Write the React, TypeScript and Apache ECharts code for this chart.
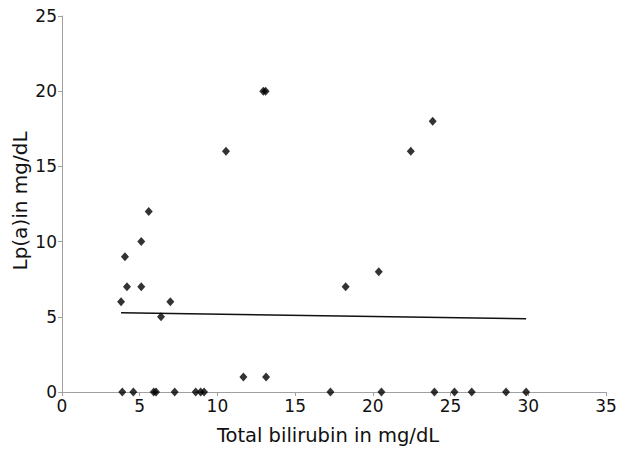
import React, { useEffect, useRef } from "react";
import * as echarts from "echarts";

const bilirubin = [
  3.8, 4.05, 4.18, 5.1, 5.1, 6.97, 6.37, 5.58, 10.55, 12.95, 13.1, 22.44, 23.85, 18.25, 20.38,
  11.67, 13.13,
  3.88, 4.59, 5.9, 6.05, 7.25, 8.6, 8.92, 9.14, 17.27, 20.55, 23.96, 25.25, 26.36, 28.57, 29.86,
];
const lpa = [
  6, 9, 7, 10, 7, 6, 5, 12, 16, 20, 20, 16, 18, 7, 8,
  1, 1,
  0, 0, 0, 0, 0, 0, 0, 0, 0, 0, 0, 0, 0, 0, 0,
];
const trendX = [3.8, 29.86];
const trendY = [5.27, 4.87];

const font = "DejaVu Sans, Verdana, sans-serif";

export default function App() {
  const ref = useRef<HTMLDivElement>(null);
  useEffect(() => {
    const chart = echarts.init(ref.current!, null, { renderer: "svg" });
    const axisLine = { show: true, lineStyle: { color: "#a0a0a0", width: 1 } };
    chart.setOption({
      animation: false,
      backgroundColor: "#ffffff",
      grid: { left: 62, right: 16, top: 16, bottom: 61, containLabel: false, outerBoundsMode: "none" },
      xAxis: {
        type: "value",
        min: 0,
        max: 35,
        interval: 5,
        name: "Total bilirubin in mg/dL",
        nameLocation: "middle",
        nameGap: 33,
        nameMoveOverlap: false,
        nameTextStyle: { color: "#111", fontSize: 19.5, fontFamily: font, padding: [0, 12, 0, 0] },
        axisLine,
        axisTick: { show: true, length: 4, lineStyle: { color: "#a0a0a0" } },
        axisLabel: { color: "#111", fontSize: 17, fontFamily: font, margin: 5 },
        splitLine: { show: false },
      },
      yAxis: {
        type: "value",
        min: 0,
        max: 25,
        interval: 5,
        name: "Lp(a)in mg/dL",
        nameLocation: "middle",
        nameGap: 32,
        nameMoveOverlap: false,
        nameTextStyle: { color: "#111", fontSize: 20, fontFamily: font, padding: [0, 0, 0, 6] },
        axisLine,
        axisTick: { show: true, length: 4, lineStyle: { color: "#a0a0a0" } },
        axisLabel: { color: "#111", fontSize: 17, fontFamily: font, margin: 5 },
        splitLine: { show: false },
      },
      series: [
        {
          type: "line",
          data: trendX.map((x, i) => [x, trendY[i]]),
          showSymbol: false,
          lineStyle: { color: "#111", width: 1.5 },
          z: 1,
        },
        {
          type: "scatter",
          data: bilirubin.map((x, i) => [x, lpa[i]]),
          symbol: "diamond",
          symbolSize: [8, 9],
          itemStyle: { color: "#000" },
          z: 2,
        },
      ],
    });
    return () => chart.dispose();
  }, []);
  return (
    <div
      ref={ref}
      style={{ position: "absolute", left: 0, top: 0, width: 622, height: 453 }}
    />
  );
}
